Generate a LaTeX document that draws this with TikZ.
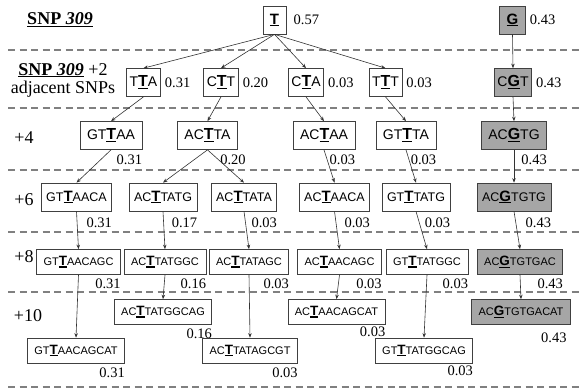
\documentclass[tikz,border=0pt]{standalone}
\usepackage{fontspec}
\setmainfont{Liberation Serif}
\setsansfont{Liberation Sans}
\usetikzlibrary{arrows.meta}

% bold underlined SNP letter
\newcommand{\snpmark}[1]{\setbox0\hbox{\bfseries#1}\rlap{\rule[-2.2pt]{\wd0}{1.3pt}}\box0}
% sequences: flanking bases smaller, SNP base big
\newcommand{\seqbig}[3]{{\sffamily\fontsize{12.5}{14}\selectfont#1{\fontsize{15}{17}\selectfont\snpmark{#2}}#3}}
\newcommand{\seqwide}[3]{{\sffamily\fontsize{14}{16}\selectfont#1{\fontsize{16}{18}\selectfont\snpmark{#2}}#3}}
\newcommand{\seqsmall}[3]{{\sffamily\fontsize{11}{13}\selectfont#1{\fontsize{13.5}{15}\selectfont\snpmark{#2}}#3}}

\begin{document}
\begin{tikzpicture}[x=1pt,y=-1pt,
  seqbox/.style={draw=black!75, line width=0.7pt, inner ysep=0pt, minimum height=28pt, inner xsep=#1},
  seqbox/.default=7pt,
  gbox/.style={seqbox=#1, fill=black!35},
  gbox/.default=7pt,
  lowbox/.style={seqbox=7pt, minimum height=25pt},
  freq/.style={inner sep=0pt, font=\fontsize{14.5}{16}\selectfont},
  level/.style={inner sep=0pt, align=center, font=\fontsize{18}{20}\selectfont},
  sep/.style={draw=black!50, line width=1.3pt, dash pattern=on 7pt off 4.5pt},
  link/.style={draw=black!80, line width=0.6pt, -{Stealth[length=4.5pt,width=3.5pt]}}]
\useasboundingbox (0,0) rectangle (583,391);

% dashed separators
\draw[sep] (8,50) -- (583,50);
\draw[sep] (8,108) -- (583,108);
\draw[sep] (8,170) -- (583,170);
\draw[sep] (8,232) -- (583,232);
\draw[sep] (8,292) -- (583,292);
\draw[sep] (8,387) -- (583,387);

% level labels
\node[level] (lev0) at (60,20) {\textbf{\underline{SNP \textit{309}}}};
\node[level] (lev2) at (63,80) {\textbf{\underline{SNP \textit{309}}} +2\\[-2pt]adjacent SNPs};
\node[level] (lev4) at (24,138) {+4};
\node[level] (lev6) at (24,200) {+6};
\node[level] (lev8) at (24,257) {+8};
\node[level] (lev10) at (28,316) {+10};

% SNP 309
\node[seqbox=7pt] (T) at (274.5,20) {\seqbig{}{T}{}};
\node[gbox=7pt] (G) at (512.5,20) {\seqbig{}{G}{}};
\node[freq, anchor=west] (fT) at ([xshift=7pt]T.east) {0.57};
\node[freq, anchor=west] (fG) at ([xshift=4pt]G.east) {0.43};

% +2
\node[seqbox=3pt] (TTA) at (143.5,82.5) {\seqwide{T}{T}{A}};
\node[seqbox=3pt] (CTT) at (221,82.5) {\seqwide{C}{T}{T}};
\node[seqbox=3pt] (CTA) at (306,82.5) {\seqwide{C}{T}{A}};
\node[seqbox=3pt] (TTT) at (385.5,82.5) {\seqwide{T}{T}{T}};
\node[gbox=3pt] (CGT) at (513,82.5) {\seqwide{C}{G}{T}};
\node[freq, anchor=west] (fTTA) at ([xshift=4pt]TTA.east) {0.31};
\node[freq, anchor=west] (fCTT) at ([xshift=4pt]CTT.east) {0.20};
\node[freq, anchor=west] (fCTA) at ([xshift=4pt]CTA.east) {0.03};
\node[freq, anchor=west] (fTTT) at ([xshift=4pt]TTT.east) {0.03};
\node[freq, anchor=west] (fCGT) at ([xshift=4pt]CGT.east) {0.43};

% +4
\node[seqbox=7pt] (GTTAA) at (111,135.5) {\seqwide{GT}{T}{AA}};
\node[seqbox=7pt] (ACTTA) at (207.5,135.5) {\seqwide{AC}{T}{TA}};
\node[seqbox=7pt] (ACTAA) at (324,135.5) {\seqwide{AC}{T}{AA}};
\node[seqbox=7pt] (GTTTA) at (406,135.5) {\seqwide{GT}{T}{TA}};
\node[gbox=7pt] (ACGTG) at (514,135.5) {\seqwide{AC}{G}{TG}};
\node[freq, anchor=base east] (fGTTAA) at ([yshift=-15pt]GTTAA.south east) {0.31};
\node[freq, anchor=base east] (fACTTA) at ([xshift=8pt,yshift=-15pt]ACTTA.south east) {0.20};
\node[freq, anchor=base east] (fACTAA) at ([yshift=-15pt]ACTAA.south east) {0.03};
\node[freq, anchor=base east] (fGTTTA) at ([yshift=-15pt]GTTTA.south east) {0.03};
\node[freq, anchor=base east] (fACGTG) at ([yshift=-15pt]ACGTG.south east) {0.43};

% +6
\node[seqbox=5pt] (GTTAACA) at (76.5,197) {\seqbig{GT}{T}{AACA}};
\node[seqbox=5pt] (ACTTATG) at (163,197) {\seqbig{AC}{T}{TATG}};
\node[seqbox=5pt] (ACTTATA) at (244,197) {\seqbig{AC}{T}{TATA}};
\node[seqbox=5pt] (ACTAACA) at (334.5,197) {\seqbig{AC}{T}{AACA}};
\node[seqbox=5pt] (GTTTATG) at (416,197) {\seqbig{GT}{T}{TATG}};
\node[gbox=5pt] (ACGTGTG) at (514,197) {\seqbig{AC}{G}{TGTG}};
\node[freq, anchor=base east] (fGTTAACA) at ([yshift=-16pt]GTTAACA.south east) {0.31};
\node[freq, anchor=base east] (fACTTATG) at ([yshift=-16pt]ACTTATG.south east) {0.17};
\node[freq, anchor=base east] (fACTTATA) at ([yshift=-16pt]ACTTATA.south east) {0.03};
\node[freq, anchor=base east] (fACTAACA) at ([yshift=-16pt]ACTAACA.south east) {0.03};
\node[freq, anchor=base east] (fGTTTATG) at ([yshift=-16pt]GTTTATG.south east) {0.03};
\node[freq, anchor=base east] (fACGTGTG) at ([yshift=-16pt]ACGTGTG.south east) {0.43};

% +8
\node[lowbox] (GTTAACAGC) at (78.5,262) {\seqsmall{GT}{T}{AACAGC}};
\node[lowbox] (ACTTATGGC) at (165,262) {\seqsmall{AC}{T}{TATGGC}};
\node[lowbox] (ACTTATAGC) at (249,262) {\seqsmall{AC}{T}{TATAGC}};
\node[lowbox] (ACTAACAGC) at (339.5,262) {\seqsmall{AC}{T}{AACAGC}};
\node[lowbox] (GTTTATGGC) at (427,262) {\seqsmall{GT}{T}{TATGGC}};
\node[lowbox, fill=black!35] (ACGTGTGAC) at (520,262) {\seqsmall{AC}{G}{TGTGAC}};
\node[freq, anchor=base east] (fGTTAACAGC) at ([yshift=-14pt]GTTAACAGC.south east) {0.31};
\node[freq, anchor=base east] (fACTTATGGC) at ([yshift=-14pt]ACTTATGGC.south east) {0.16};
\node[freq, anchor=base east] (fACTTATAGC) at ([yshift=-14pt]ACTTATAGC.south east) {0.03};
\node[freq, anchor=base east] (fACTAACAGC) at ([yshift=-14pt]ACTAACAGC.south east) {0.03};
\node[freq, anchor=base east] (fGTTTATGGC) at ([yshift=-14pt]GTTTATGGC.south east) {0.03};
\node[freq, anchor=base east] (fACGTGTGAC) at ([yshift=-14pt]ACGTGTGAC.south east) {0.43};

% +10
\node[lowbox] (ACTTATGGCAG) at (163,312) {\seqsmall{AC}{T}{TATGGCAG}};
\node[lowbox] (ACTAACAGCAT) at (336.5,312) {\seqsmall{AC}{T}{AACAGCAT}};
\node[lowbox, fill=black!35] (ACGTGTGACAT) at (521,312) {\seqsmall{AC}{G}{TGTGACAT}};
\node[lowbox] (GTTAACAGCAT) at (76,350.5) {\seqsmall{GT}{T}{AACAGCAT}};
\node[lowbox] (ACTTATAGCGT) at (250,350.5) {\seqsmall{AC}{T}{TATAGCGT}};
\node[lowbox] (GTTTATGGCAG) at (424,350.5) {\seqsmall{GT}{T}{TATGGCAG}};
\node[freq, anchor=base east] (fACTTATGGCAG) at ([yshift=-14pt]ACTTATGGCAG.south east) {0.16};
\node[freq, anchor=base east] (fACTAACAGCAT) at ([yshift=-12pt]ACTAACAGCAT.south east) {0.03};
\node[freq, anchor=base east] (fACGTGTGACAT) at ([xshift=-4pt,yshift=-18pt]ACGTGTGACAT.south east) {0.43};
\node[freq, anchor=base east] (fGTTAACAGCAT) at ([yshift=-14pt]GTTAACAGCAT.south east) {0.31};
\node[freq, anchor=base east] (fACTTATAGCGT) at ([yshift=-14pt]ACTTATAGCGT.south east) {0.03};
\node[freq, anchor=base east] (fGTTTATGGCAG) at ([yshift=-12pt]GTTTATGGCAG.south east) {0.03};

% links
\draw[link] (T.south) -- (TTA.north);
\draw[link] (T.south) -- (CTT.north);
\draw[link] (T.south) -- (CTA.north);
\draw[link] (T.south) -- (TTT.north);
\draw[link] (G.south) -- (CGT.north);
\draw[link] (TTA.south) -- (GTTAA.north);
\draw[link] (CTT.south) -- (ACTTA.north);
\draw[link] (CTA.south) -- (ACTAA.north);
\draw[link] (TTT.south) -- (GTTTA.north);
\draw[link] (CGT.south) -- (ACGTG.north);
\draw[link] (GTTAA.south) -- (GTTAACA.north);
\draw[link] (ACTTA.south) -- (ACTTATG.north);
\draw[link] (ACTTA.south) -- (ACTTATA.north);
\draw[link] (ACTAA.south) -- (ACTAACA.north);
\draw[link] (GTTTA.south) -- (GTTTATG.north);
\draw[link] (ACGTG.south) -- (ACGTGTG.north);
\draw[link] (GTTAACA.south) -- (GTTAACAGC.north);
\draw[link] (ACTTATG.south) -- (ACTTATGGC.north);
\draw[link] (ACTTATA.south) -- (ACTTATAGC.north);
\draw[link] (ACTAACA.south) -- (ACTAACAGC.north);
\draw[link] (GTTTATG.south) -- (GTTTATGGC.north);
\draw[link] (ACGTGTG.south) -- (ACGTGTGAC.north);
\draw[link] (GTTAACAGC.south) -- (GTTAACAGCAT.north);
\draw[link] (ACTTATGGC.south) -- (ACTTATGGCAG.north);
\draw[link] (ACTTATAGC.south) -- (ACTTATAGCGT.north);
\draw[link] (ACTAACAGC.south) -- (ACTAACAGCAT.north);
\draw[link] (GTTTATGGC.south) -- (GTTTATGGCAG.north);
\draw[link] (ACGTGTGAC.south) -- (ACGTGTGACAT.north);
\end{tikzpicture}
\end{document}
